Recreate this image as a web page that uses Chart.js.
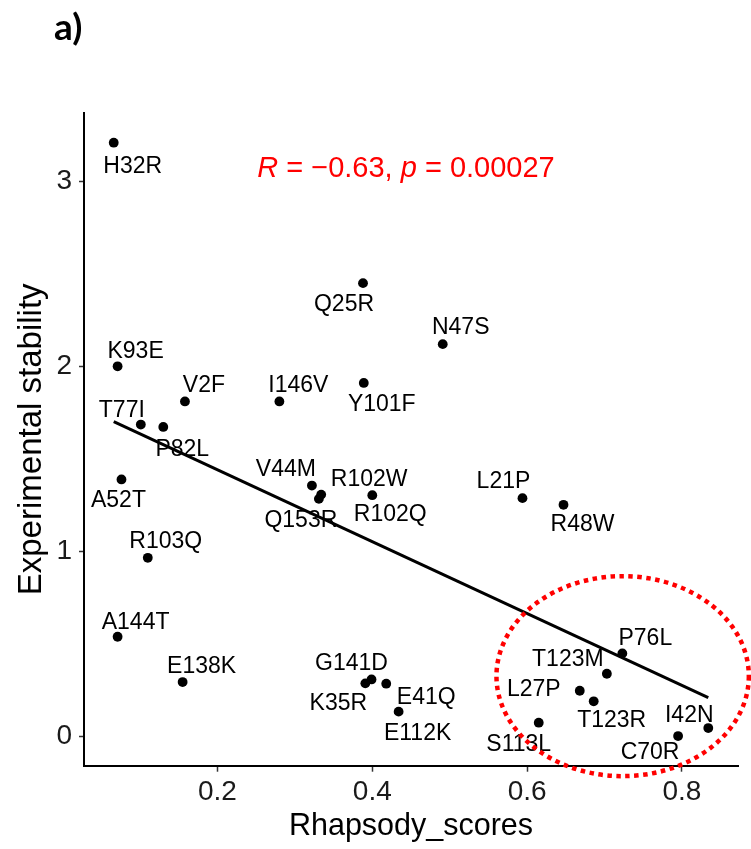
<!DOCTYPE html>
<html>
<head>
<meta charset="utf-8">
<script src="https://cdn.jsdelivr.net/npm/chart.js@4.4.1/dist/chart.umd.min.js"></script>
<style>
  html, body { margin: 0; padding: 0; background: #ffffff; }
  canvas { display: block; }
</style>
</head>
<body>
<canvas id="c" width="751" height="849"></canvas>
<script>
// ---- data ----
const mutations = ['H32R','Q25R','N47S','K93E','V2F','I146V','Y101F','T77I','P82L','A52T',
                   'V44M','R102W','Q153R','R102Q','L21P','R48W','R103Q','A144T','E138K','G141D',
                   'K35R','E41Q','E112K','P76L','T123M','L27P','T123R','S113L','C70R','I42N'];
const rhapsodyScores = [0.066,0.388,0.491,0.071,0.158,0.280,0.389,0.101,0.130,0.076,
                        0.322,0.334,0.331,0.400,0.594,0.647,0.110,0.071,0.155,0.399,
                        0.391,0.418,0.434,0.723,0.703,0.668,0.686,0.615,0.795,0.834];
const experimentalStability = [3.21,2.45,2.12,2.00,1.81,1.81,1.91,1.685,1.672,1.388,
                               1.355,1.306,1.283,1.303,1.287,1.251,0.964,0.537,0.292,0.306,
                               0.285,0.283,0.132,0.447,0.337,0.245,0.188,0.072,0.000,0.043];
const xTickValues = [0.2, 0.4, 0.6, 0.8];
const yTickValues = [0, 1, 2, 3];
const statLabel = { R: '-0.63', p: '0.00027' };

// ---- layout (label offsets in px from each point, annotation anchors) ----
const labelOffsets = [[19,22],[-19,20],[18,-18],[18,-16],[19,-17],[19,-17],[18,20],[-19,-16],[19,21],[-3,20],
                      [-26,-18],[48,-17],[-18,20],[18,18],[-19,-18],[19,18],[18,-18],[18,-16],[19,-17],[-20,-17],
                      [-27,19],[40,12],[19,20],[23,-16],[-39,-16],[-46,-3],[18,18],[-20,20],[-28,15],[-19,-14]];
const statAnchor = [0.2514, 3.08];
const ellipseCenter = [0.7234, 0.324];
const ellipseRadii = [0.163, 0.541];

const FONT = "'Liberation Sans', Arial, Helvetica, sans-serif";

// least-squares regression line (as geom_smooth(method = "lm"))
const n = rhapsodyScores.length;
const mx = rhapsodyScores.reduce((a,b)=>a+b,0)/n;
const my = experimentalStability.reduce((a,b)=>a+b,0)/n;
let sxy = 0, sxx = 0;
for (let i = 0; i < n; i++) { sxy += (rhapsodyScores[i]-mx)*(experimentalStability[i]-my); sxx += (rhapsodyScores[i]-mx)**2; }
const slope = sxy/sxx, intercept = my - slope*mx;
const xMin = Math.min(...rhapsodyScores), xMax = Math.max(...rhapsodyScores);
const yMin = Math.min(...experimentalStability), yMax = Math.max(...experimentalStability);
const regLine = [{x: xMin, y: intercept + slope*xMin}, {x: xMax, y: intercept + slope*xMax}];
const xr = xMax - xMin, yr = yMax - yMin;

const annotate = {
  id: 'annotate',
  afterDraw(chart) {
    const {ctx, scales: {x, y}} = chart;
    ctx.save();
    // point labels
    ctx.font = `23px ${FONT}`;
    ctx.fillStyle = '#000000';
    ctx.textAlign = 'center';
    ctx.textBaseline = 'alphabetic';
    mutations.forEach((m, i) => {
      const px = x.getPixelForValue(rhapsodyScores[i]) + labelOffsets[i][0];
      const py = y.getPixelForValue(experimentalStability[i]) + labelOffsets[i][1];
      ctx.fillText(m, px, py + 8);
    });
    // correlation text
    const parts = [
      ['italic', 'R'], ['normal', ' = \u2212' + statLabel.R.replace('-', '') + ', '],
      ['italic', 'p'], ['normal', ' = ' + statLabel.p]
    ];
    let tx = x.getPixelForValue(statAnchor[0]);
    const ty = y.getPixelForValue(statAnchor[1]) + 10;
    ctx.fillStyle = '#FF0000';
    ctx.textAlign = 'left';
    parts.forEach(([style, t]) => {
      ctx.font = `${style} 29px ${FONT}`;
      ctx.fillText(t, tx, ty);
      tx += ctx.measureText(t).width;
    });
    // dotted ellipse
    const cx = x.getPixelForValue(ellipseCenter[0]);
    const cy = y.getPixelForValue(ellipseCenter[1]);
    const rx = Math.abs(x.getPixelForValue(ellipseCenter[0] + ellipseRadii[0]) - cx);
    const ry = Math.abs(y.getPixelForValue(ellipseCenter[1] + ellipseRadii[1]) - cy);
    ctx.beginPath();
    ctx.ellipse(cx, cy, rx, ry, 0, 0, Math.PI * 2);
    ctx.setLineDash([4.5, 4.5]);
    ctx.lineWidth = 4.5;
    ctx.strokeStyle = '#FF0000';
    ctx.stroke();
    ctx.setLineDash([]);
    // panel tag
    ctx.font = "bold 37px Lato, 'Open Sans', sans-serif";
    ctx.fillStyle = '#000000';
    ctx.fillText('a)', 54, 40);
    ctx.restore();
  }
};

new Chart(document.getElementById('c'), {
  type: 'scatter',
  data: {
    datasets: [
      {
        type: 'line',
        data: regLine,
        borderColor: '#000000',
        borderWidth: 3,
        pointRadius: 0,
        fill: false
      },
      {
        data: rhapsodyScores.map((v, i) => ({x: v, y: experimentalStability[i]})),
        backgroundColor: '#000000',
        borderWidth: 0,
        pointRadius: 4.9
      }
    ]
  },
  options: {
    responsive: false,
    devicePixelRatio: 1,
    animation: false,
    layout: { padding: { top: 113, right: 13, left: 0, bottom: 0 } },
    plugins: { legend: { display: false }, tooltip: { enabled: false } },
    scales: {
      x: {
        type: 'linear',
        min: xMin - 0.05 * xr,
        max: xMax + 0.05 * xr,
        afterBuildTicks: s => { s.ticks = xTickValues.map(v => ({value: v})); },
        afterFit: s => { s.height = 83.3; },
        ticks: { callback: v => String(v), color: '#1a1a1a', font: { size: 28, family: FONT }, padding: 4, maxRotation: 0 },
        grid: { drawOnChartArea: false, drawTicks: true, tickLength: 6, tickWidth: 1.5, tickColor: '#333333' },
        border: { display: true, color: '#000000', width: 2 },
        title: { display: true, text: 'Rhapsody_scores', color: '#000000', font: { size: 30.5, family: FONT }, padding: { top: 0, bottom: 4 } }
      },
      y: {
        type: 'linear',
        min: yMin - 0.05 * yr,
        max: yMax + 0.05 * yr,
        afterBuildTicks: s => { s.ticks = yTickValues.map(v => ({value: v})); },
        afterFit: s => { s.width = 84; },
        ticks: { callback: v => String(v), color: '#1a1a1a', font: { size: 28, family: FONT }, padding: 7 },
        grid: { drawOnChartArea: false, drawTicks: true, tickLength: 5, tickWidth: 1.5, tickColor: '#333333' },
        border: { display: true, color: '#000000', width: 2 },
        title: { display: true, text: 'Experimental stability', color: '#000000', font: { size: 33, family: FONT }, padding: { top: 12, bottom: 0 } }
      }
    }
  },
  plugins: [annotate]
});
</script>
</body>
</html>
